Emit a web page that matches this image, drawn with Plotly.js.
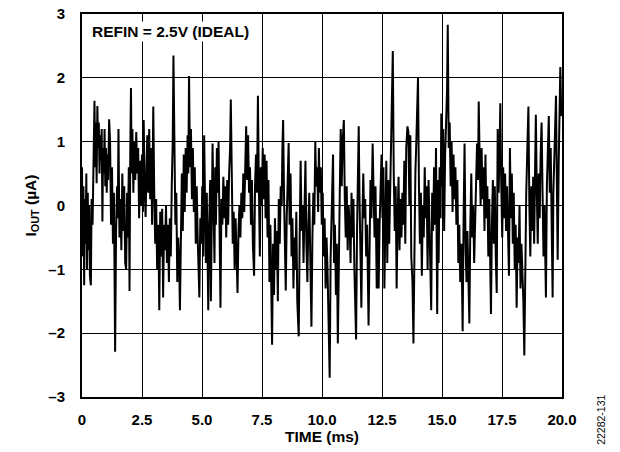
<!DOCTYPE html>
<html>
<head>
<meta charset="utf-8">
<script src="https://cdn.plot.ly/plotly-3.0.1.min.js"></script>
<style>html,body{margin:0;padding:0;background:#fff;}#chart{width:620px;height:452px;}</style>
</head>
<body>
<div id="chart"></div>
<script>
const timeMs = [
0.00,0.03,0.06,0.09,0.12,0.15,0.18,0.21,0.24,0.27,0.30,0.33,0.37,0.40,0.44,0.48,0.52,0.55,0.58,0.61,0.64,0.67,0.70,0.73,0.76,0.79,0.82,0.85,0.88,0.91,0.94,0.97,1.00,1.03,1.06,1.09,1.13,1.17,1.21,1.25,1.29,1.33,1.38,1.42,1.46,1.49,1.52,1.56,1.60,1.64,1.68,1.72,1.76,1.80,1.84,1.88,1.91,1.95,1.98,2.01,2.04,2.07,2.10,2.14,2.18,2.22,2.26,2.30,2.34,2.38,2.42,
2.46,2.50,2.54,2.57,2.61,2.65,2.69,2.72,2.76,2.80,2.84,2.88,2.92,2.97,3.01,3.05,3.09,3.13,3.18,3.22,3.26,3.30,3.34,3.38,3.42,3.46,3.50,3.54,3.58,3.62,3.66,3.70,3.74,3.78,3.81,3.85,3.89,3.93,3.97,4.01,4.05,4.08,4.12,4.16,4.20,4.24,4.28,4.32,4.36,4.40,4.43,4.46,4.50,4.54,4.58,4.62,4.66,4.70,4.74,4.78,4.82,4.86,4.89,4.93,
4.97,5.01,5.05,5.09,5.13,5.16,5.20,5.23,5.26,5.30,5.34,5.37,5.41,5.44,5.48,5.52,5.55,5.58,5.62,5.66,5.69,5.73,5.77,5.81,5.85,5.89,5.93,5.97,6.01,6.05,6.09,6.13,6.17,6.20,6.24,6.28,6.32,6.36,6.40,6.44,6.48,6.52,6.56,6.60,6.64,6.68,6.72,6.76,6.80,6.84,6.88,6.92,6.96,7.00,7.04,7.08,7.12,7.17,7.21,7.25,7.29,7.33,
7.37,7.41,7.45,7.49,7.53,7.57,7.61,7.65,7.69,7.73,7.77,7.81,7.85,7.88,7.92,7.96,8.00,8.04,8.08,8.12,8.16,8.20,8.24,8.28,8.32,8.35,8.38,8.42,8.46,8.49,8.53,8.57,8.61,8.65,8.69,8.73,8.77,8.81,8.85,8.89,8.93,8.97,9.03,9.07,9.11,9.15,9.19,9.23,9.27,9.31,9.35,9.39,9.43,9.47,9.51,9.56,9.60,9.64,9.68,9.72,9.76,9.80,9.84,
9.87,9.91,9.95,9.99,10.03,10.07,10.11,10.15,10.19,10.23,10.27,10.32,10.36,10.40,10.44,10.46,10.50,10.54,10.58,10.62,10.66,10.70,10.74,10.78,10.82,10.86,10.91,10.95,10.99,11.03,11.07,11.11,11.15,11.19,11.23,11.27,11.31,11.35,11.42,11.46,11.50,11.53,11.56,11.60,11.64,11.68,11.72,11.76,11.80,11.84,11.88,11.94,11.98,12.02,12.06,12.11,12.15,12.19,12.23,12.28,12.32,
12.36,12.40,12.44,12.48,12.52,12.56,12.60,12.64,12.68,12.72,12.76,12.80,12.84,12.88,12.92,12.95,12.99,13.03,13.07,13.11,13.15,13.19,13.23,13.27,13.31,13.35,13.39,13.43,13.47,13.51,13.56,13.60,13.64,13.68,13.72,13.77,13.81,13.85,13.89,13.93,13.97,14.00,14.04,14.08,14.12,14.16,14.20,14.24,14.28,14.32,14.36,14.40,14.44,14.48,14.51,14.55,14.59,14.63,14.67,14.71,14.75,14.80,14.84,
14.86,14.90,14.94,14.97,15.01,15.05,15.09,15.13,15.17,15.21,15.24,15.28,15.32,15.36,15.40,15.44,15.48,15.52,15.56,15.60,15.64,15.68,15.72,15.76,15.81,15.86,15.90,15.94,15.98,16.02,16.06,16.10,16.14,16.18,16.22,16.26,16.30,16.34,16.38,16.42,16.46,16.50,16.53,16.57,16.61,16.65,16.69,16.73,16.77,16.81,16.85,16.89,16.93,16.97,17.00,17.04,17.08,17.12,17.16,17.20,17.24,17.28,17.32,
17.36,17.40,17.43,17.47,17.51,17.55,17.59,17.63,17.67,17.71,17.75,17.79,17.83,17.87,17.91,17.95,17.99,18.03,18.07,18.11,18.15,18.19,18.23,18.27,18.31,18.35,18.39,18.43,18.47,18.51,18.55,18.60,18.64,18.68,18.72,18.76,18.80,18.84,18.88,18.91,18.95,18.99,19.03,19.07,19.11,19.15,19.19,19.23,19.27,19.30,19.33,19.37,19.41,19.45,19.49,19.53,19.57,19.61,19.64,19.68,19.72,19.75,19.79,19.82,19.86,19.90,19.93,19.97
];
const ioutUA = [
0.6,-0.8,0.3,-1.25,0.1,-0.6,0.5,-1.0,0.2,-0.7,0.0,-1.1,-1.25,0.1,-0.3,1.2,1.64,0.6,1.3,0.35,1.56,0.9,1.3,0.5,1.1,0.7,1.2,-0.25,0.9,0.5,1.2,0.3,0.9,0.2,0.8,0.4,1.35,1.0,-0.3,0.6,-0.6,0.2,-2.29,-0.4,0.3,-0.2,1.2,-0.5,0.1,-0.7,0.5,-0.4,0.3,-0.9,-1.0,0.2,-0.5,0.6,-1.34,0.8,1.84,0.5,1.2,0.2,1.0,0.4,1.15,0.5,0.9,-0.2,0.7,
0.0,0.8,-0.1,1.34,0.3,-0.18,0.6,1.1,0.2,1.2,0.1,0.9,-0.3,1.55,0.2,-0.6,0.1,-1.0,-0.3,-1.64,-0.1,-0.8,-0.05,-1.44,-0.3,-0.7,0.0,-0.9,-0.3,-1.2,-0.2,-0.8,0.3,1.0,2.35,0.5,-0.3,0.2,-1.2,-0.5,-0.9,-1.64,-0.2,0.5,-0.4,0.8,-0.1,0.9,0.2,1.1,0.5,2.03,0.6,1.2,0.1,0.9,-0.1,0.6,-0.6,0.3,-0.5,-0.9,-1.44,-0.2,
-0.6,0.3,-0.8,1.1,-0.2,-0.9,0.2,-0.5,-1.64,-0.3,0.4,-1.5,0.1,0.97,0.0,-0.9,0.6,-0.3,0.9,0.2,1.0,-0.5,-1.6,0.1,-0.3,0.45,-0.2,0.3,-0.5,0.4,-0.3,0.5,0.9,1.66,0.2,-0.6,-0.1,-1.0,-0.2,-0.9,-1.37,-0.4,0.0,-0.5,0.2,-0.2,0.5,-0.1,0.9,1.24,0.4,1.1,0.2,0.6,-0.3,0.4,-0.6,-1.1,0.3,0.8,0.2,1.72,
0.3,-0.8,0.6,0.0,0.9,0.1,0.8,-0.2,0.7,-0.5,0.4,-1.2,-0.3,-1.6,-2.18,-0.6,-1.4,-0.2,-1.0,-0.4,-1.5,0.1,-0.6,0.3,0.0,0.9,1.34,0.1,-0.9,-1.33,-0.2,0.4,0.98,-0.3,0.5,-0.8,-0.2,-1.3,-0.5,-1.0,-0.1,-1.5,-2.05,-0.5,0.7,-0.4,0.0,-0.9,0.1,0.7,-0.6,-1.2,-0.3,0.2,-0.8,-1.9,-0.5,0.2,-0.3,1.0,0.3,0.6,-0.1,
0.9,0.2,0.6,-0.3,0.2,-0.8,-0.2,-1.3,-0.5,-1.0,-1.9,-2.7,-0.8,-0.2,0.6,0.8,-0.9,-0.3,-1.4,-0.6,-2.16,-0.4,0.2,1.2,0.3,1.0,1.34,0.1,-0.5,0.3,-0.7,0.0,-0.3,-0.9,0.2,-0.5,0.1,-1.0,-2.1,-0.4,0.5,1.24,0.2,-0.6,-1.6,-0.3,0.5,-0.2,0.1,-0.8,-0.3,-1.88,-0.1,0.4,-0.2,0.97,0.2,-0.5,0.3,-1.3,-0.2,
-1.3,-0.3,0.5,0.8,-0.2,0.6,-1.3,0.0,0.7,-0.9,0.4,-0.6,0.3,1.0,1.5,2.42,0.5,-0.4,0.3,-1.3,-0.2,0.45,-0.7,0.1,-0.5,0.2,-0.3,0.7,-0.6,0.9,1.24,1.15,0.0,1.1,-0.8,-1.2,-2.16,-0.3,0.5,1.0,1.5,2.0,0.3,-0.6,0.2,-1.1,0.0,-0.5,0.6,-0.2,0.3,-1.0,0.4,-0.6,-1.0,-1.64,0.2,-0.4,0.6,-0.3,0.9,-1.7,0.4,
-0.9,0.6,-0.2,1.44,0.3,1.2,-0.4,0.8,1.2,1.8,2.83,0.9,1.3,0.3,1.0,-0.1,0.8,0.1,0.6,-0.3,0.4,-0.9,-0.3,-1.2,-0.6,-1.97,-0.2,0.97,-0.6,-1.2,-0.4,-1.0,-1.85,-0.3,0.5,-0.5,0.0,-0.9,-0.3,0.5,0.97,0.4,1.63,0.7,0.0,0.9,0.1,0.6,-0.4,0.8,-0.2,0.3,-0.8,0.1,-1.2,-1.7,-0.3,0.4,-0.6,0.3,-0.8,-1.37,1.2,
0.2,0.9,1.6,0.3,-0.5,0.6,-0.2,0.5,-0.4,0.3,-0.8,-1.1,0.9,-0.2,0.5,-0.6,0.2,-1.0,-0.3,-1.6,-0.5,-0.9,0.0,-1.3,-0.6,-1.0,-1.5,-2.35,-0.6,0.2,0.8,1.55,0.0,-0.8,0.3,-0.4,0.45,-0.6,0.6,1.42,0.2,-0.6,0.5,-0.2,0.8,1.3,0.2,-0.8,0.0,-0.9,-1.44,0.3,0.8,1.4,0.2,0.9,-0.3,-1.44,0.2,0.9,1.2,1.72,0.2,-0.85,0.6,1.5,2.17,1.4
];
const xTickVals = [0, 2.5, 5, 7.5, 10, 12.5, 15, 17.5, 20];
const xTickText = ['0', '2.5', '5.0', '7.5', '10.0', '12.5', '15.0', '17.5', '20.0'];
const yTickVals = [-3, -2, -1, 0, 1, 2, 3];
const yTickText = ['\u20133', '\u20132', '\u20131', '0', '1', '2', '3'];

const FONT = 'Liberation Sans, Arial, sans-serif';

Plotly.newPlot('chart', [{
  x: timeMs, y: ioutUA, type: 'scatter', mode: 'lines',
  line: {color: '#000', width: 2}, hoverinfo: 'skip'
}], {
  width: 620, height: 452,
  margin: {l: 82, r: 58, t: 14, b: 55},
  paper_bgcolor: '#fff', plot_bgcolor: '#fff',
  showlegend: false,
  font: {family: FONT, color: '#000', size: 15},
  xaxis: {
    range: [0, 20], tickvals: xTickVals, ticktext: xTickText,
    showgrid: true, gridcolor: '#000', gridwidth: 1,
    showline: true, linecolor: '#000', linewidth: 2, mirror: true,
    zeroline: false, ticks: '', ticklen: 0, ticklabelstandoff: 8,
    automargin: false,
    tickfont: {family: FONT, size: 15, color: '#000', weight: 'bold'},
    title: {text: '<b>TIME (ms)</b>', font: {family: FONT, size: 15.5, color: '#000'}, standoff: 3}
  },
  yaxis: {
    range: [-3, 3], tickvals: yTickVals, ticktext: yTickText,
    showgrid: true, gridcolor: '#000', gridwidth: 1,
    showline: true, linecolor: '#000', linewidth: 2, mirror: true,
    zeroline: false, ticks: '', ticklen: 0, ticklabelstandoff: 12,
    automargin: false,
    tickfont: {family: FONT, size: 15, color: '#000', weight: 'bold'},
    title: {text: '<b>I<sub>OUT</sub> (\u00B5A)</b>', font: {family: FONT, size: 15.5, color: '#000'}, standoff: 8}
  },
  annotations: [
    {text: '<b>REFIN = 2.5V (IDEAL)</b>', xref: 'paper', yref: 'paper', x: 0.016, y: 0.982,
     xanchor: 'left', yanchor: 'top', showarrow: false, bgcolor: '#fff', borderpad: 1,
     font: {family: FONT, size: 15.5, color: '#000'}},
    {text: '22282-131', xref: 'paper', yref: 'paper', x: 1.081, y: -0.06,
     xanchor: 'center', yanchor: 'middle', textangle: -90, showarrow: false,
     font: {family: FONT, size: 10.5, color: '#000'}}
  ]
}, {staticPlot: true});
</script>
</body>
</html>
